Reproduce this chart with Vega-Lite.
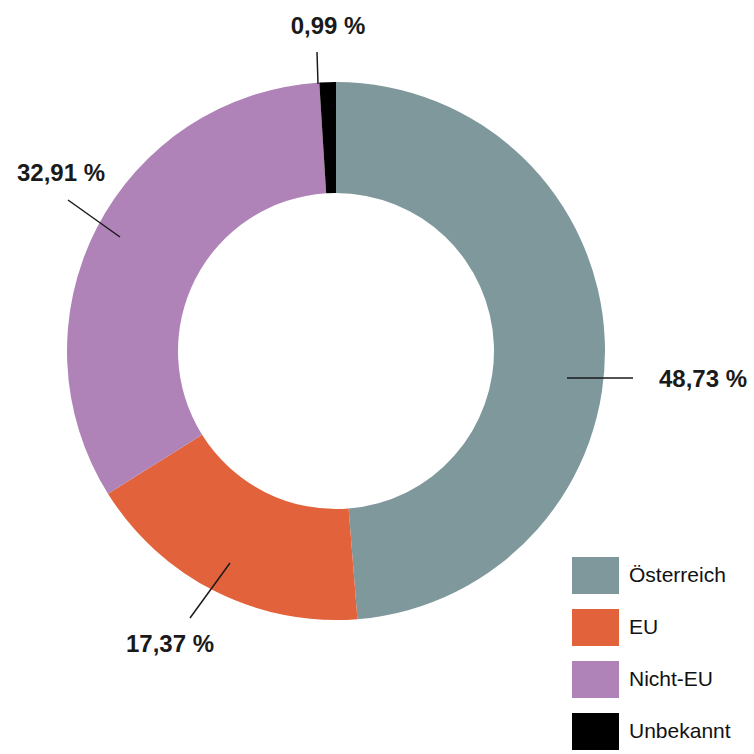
{
  "$schema": "https://vega.github.io/schema/vega-lite/v6.json",
  "width": 672,
  "height": 702,
  "autosize": "none",
  "padding": {"left": 0, "top": 0, "right": 82, "bottom": 52},
  "background": "white",
  "config": {"view": {"stroke": null}},
  "datasets": {
    "slices": [
      {"Herkunft": "Österreich", "Anteil": 48.73, "idx": 1},
      {"Herkunft": "EU", "Anteil": 17.37, "idx": 2},
      {"Herkunft": "Nicht-EU", "Anteil": 32.91, "idx": 3},
      {"Herkunft": "Unbekannt", "Anteil": 0.99, "idx": 4}
    ],
    "labels": [
      {"label": "48,73 %", "lx": 367, "ly": -29},
      {"label": "17,37 %", "lx": -166, "ly": -294},
      {"label": "32,91 %", "lx": -275, "ly": 177},
      {"label": "0,99 %", "lx": -8, "ly": 324}
    ],
    "lines": [
      {"x1": 231, "y1": -27, "x2": 297, "y2": -27},
      {"x1": -106, "y1": -212, "x2": -146, "y2": -267},
      {"x1": -216, "y1": 114, "x2": -268, "y2": 151},
      {"x1": -18, "y1": 267, "x2": -19, "y2": 299}
    ]
  },
  "layer": [
    {
      "data": {"name": "slices"},
      "mark": {"type": "arc", "outerRadius": 269, "innerRadius": 158, "strokeWidth": 0},
      "encoding": {
        "theta": {"field": "Anteil", "type": "quantitative", "stack": true},
        "order": {"field": "idx", "type": "quantitative"},
        "color": {
          "field": "Herkunft",
          "type": "nominal",
          "scale": {
            "domain": ["Österreich", "EU", "Nicht-EU", "Unbekannt"],
            "range": ["#7f989c", "#e1623b", "#b083b8", "#000000"]
          },
          "legend": {
            "title": null,
            "orient": "none",
            "legendX": 572,
            "legendY": 552,
            "padding": 0,
            "symbolType": "M-1,-0.79H1V0.79H-1Z",
            "symbolSize": 2209,
            "symbolStrokeWidth": 0,
            "symbolOpacity": 1,
            "labelFont": "Liberation Sans",
            "labelFontSize": 21,
            "labelColor": "#111111",
            "labelOffset": 10,
            "rowPadding": 9,
            "labelLimit": 200
          }
        }
      }
    },
    {
      "data": {"name": "lines"},
      "mark": {"type": "rule", "color": "#1a1a1a", "strokeWidth": 1.5},
      "encoding": {
        "x": {"field": "x1", "type": "quantitative", "scale": {"domain": [-336, 336], "nice": false, "zero": false}, "axis": null},
        "y": {"field": "y1", "type": "quantitative", "scale": {"domain": [-351, 351], "nice": false, "zero": false}, "axis": null},
        "x2": {"field": "x2"},
        "y2": {"field": "y2"}
      }
    },
    {
      "data": {"name": "labels"},
      "mark": {"type": "text", "font": "Liberation Sans", "fontWeight": "bold", "fontSize": 24, "color": "#1a1a1a", "align": "center", "baseline": "middle"},
      "encoding": {
        "x": {"field": "lx", "type": "quantitative", "scale": {"domain": [-336, 336], "nice": false, "zero": false}, "axis": null},
        "y": {"field": "ly", "type": "quantitative", "scale": {"domain": [-351, 351], "nice": false, "zero": false}, "axis": null},
        "text": {"field": "label"}
      }
    }
  ]
}
